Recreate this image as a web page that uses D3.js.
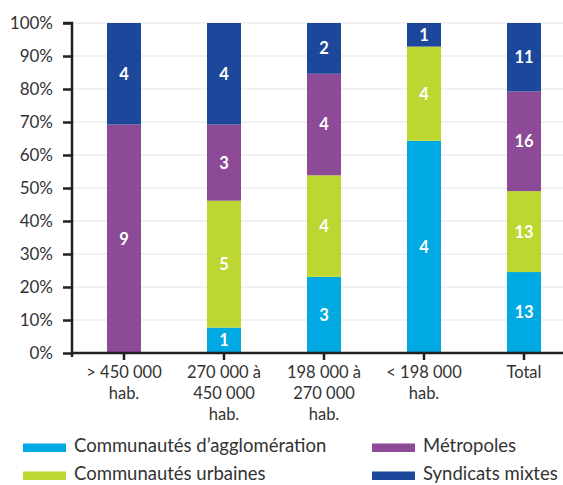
<!DOCTYPE html>
<html><head><meta charset="utf-8">
<script src="https://cdn.jsdelivr.net/npm/d3@7"></script>
<style>
html,body{margin:0;padding:0;background:#fff;}
svg{display:block;font-family:Lato, "Open Sans", sans-serif;}
</style></head>
<body>
<svg id="chart" width="563" height="485"></svg>
<script>
const categories = [["> 450 000","hab."],["270 000 à","450 000","hab."],["198 000 à","270 000","hab."],["< 198 000","hab."],["Total"]];
const seriesNames = ["Communautés d’agglomération","Communautés urbaines","Métropoles","Syndicats mixtes"];
const seriesColors = ["#00A9E2","#BED631","#8C4A97","#1C479B"];
const agglo = [0,1,3,9,13];
const urbaines = [0,5,4,4,13];
const metropoles = [9,3,4,0,16];
const syndicats = [4,4,2,1,11];
// labels as printed on the original chart
const aggloLabels = ["","1","3","4","13"];
const urbainesLabels = ["","5","4","4","13"];
const metropolesLabels = ["9","3","4","","16"];
const syndicatsLabels = ["4","4","2","1","11"];
const yTicks = [0,0.1,0.2,0.3,0.4,0.5,0.6,0.7,0.8,0.9,1];

const values = [agglo, urbaines, metropoles, syndicats];
const labels = [aggloLabels, urbainesLabels, metropolesLabels, syndicatsLabels];

const svg = d3.select("#chart");
const mLeft = 72, mRight = 563, mTop = 23, mBottom = 353;
const x = d3.scaleBand().domain(d3.range(categories.length)).range([mLeft+2, mLeft+2+500]).paddingInner(0.66).paddingOuter(0.33);
const y = d3.scaleLinear().domain([0,1]).range([mBottom, mTop]);

// grid
svg.append("g").selectAll("line").data(yTicks.filter(d=>d>0)).join("line")
  .attr("x1", mLeft).attr("x2", mRight).attr("y1", d=>y(d)).attr("y2", d=>y(d))
  .attr("stroke", "#e4e4e4").attr("stroke-width", 1.2);

// bars
const totals = categories.map((c,i)=>values.reduce((s,v)=>s+v[i],0));
categories.forEach((c,i)=>{
  let cum = 0;
  values.forEach((v,s)=>{
    const f0 = cum/totals[i], f1 = (cum+v[i])/totals[i];
    cum += v[i];
    if (v[i] === 0) return;
    svg.append("rect").attr("x", x(i)).attr("width", x.bandwidth())
      .attr("y", y(f1)).attr("height", y(f0)-y(f1)).attr("fill", seriesColors[s]);
    const lab = labels[s][i];
    if (lab) {
      let cy = (y(f0)+y(f1))/2;
      svg.append("text").attr("x", x(i)+x.bandwidth()/2).attr("y", cy)
        .attr("dy","0.36em").attr("text-anchor","middle").attr("fill","#fff")
        .attr("font-weight","bold").attr("font-size",16.5).text(lab);
    }
  });
});

// y axis
const yAxis = d3.axisLeft(y).tickValues(yTicks).tickFormat(d=>Math.round(d*100)+"%").tickSize(9).tickPadding(10);
const ga = svg.append("g").attr("transform",`translate(${mLeft},0)`).call(yAxis);
ga.select(".domain").attr("stroke","#231f20").attr("stroke-width",2.5).attr("d",`M-9,${mTop}H0V${mBottom+4}`);
ga.selectAll(".tick line").attr("stroke","#231f20").attr("stroke-width",2.5);
ga.selectAll(".tick text").attr("font-size",17).attr("fill","#333").attr("font-family","Lato, sans-serif");

// x axis
svg.append("line").attr("x1", mLeft-1).attr("x2", mRight).attr("y1", mBottom).attr("y2", mBottom)
  .attr("stroke","#231f20").attr("stroke-width",2.5);
svg.append("g").selectAll("line").data(categories.map((c,i)=>i)).join("line")
  .attr("x1", i=>x(i)+x.bandwidth()/2).attr("x2", i=>x(i)+x.bandwidth()/2)
  .attr("y1", mBottom).attr("y2", mBottom+7).attr("stroke","#231f20").attr("stroke-width",2.5);
categories.forEach((lines,i)=>{
  const t = svg.append("text").attr("text-anchor","middle").attr("font-size",16.5).attr("fill","#333");
  lines.forEach((ln,k)=>{
    t.append("tspan").attr("x", x(i)+x.bandwidth()/2).attr("y", 378+k*21).text(ln);
  });
});

// legend
const legPos = [[23,452],[23,480],[372,452],[372,480]];
[0,1,2,3].forEach((s)=>{
  const [lx,ly] = legPos[s];
  svg.append("rect").attr("x",lx).attr("y",ly-8.5).attr("width",43).attr("height",8.5).attr("fill",seriesColors[s]);
  svg.append("text").attr("x",lx+51).attr("y",ly).attr("font-size",18.5).attr("fill","#333").text(seriesNames[s]);
});
</script>
</body></html>
